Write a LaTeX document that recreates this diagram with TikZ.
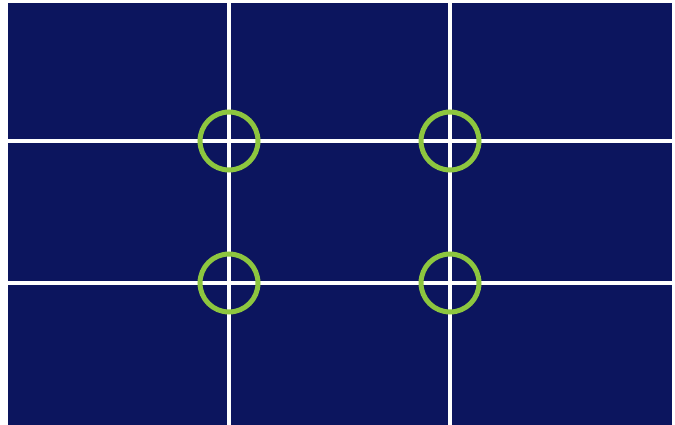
\documentclass[tikz,border=0pt]{standalone}
\usepackage{tikz}
\usetikzlibrary{calc}
\definecolor{cNavy}{HTML}{0C155E}
\definecolor{cGreen}{HTML}{8DC63F}
\tikzset{
  frame/.style ={fill=cNavy,draw=none},
  gridln/.style={draw=white,line width=4.5pt},
  focus/.style ={draw=cGreen,line width=5pt},
}
\begin{document}
\begin{tikzpicture}[x=1pt, y=-1pt]
\useasboundingbox (0,0) rectangle (675,425);

\def\xl{8}      % left edge of the frame
\def\xr{672}    % right edge
\def\yt{3}      % top edge
\def\yb{425}    % bottom edge

% ===== background =======================================================
\fill[frame] (\xl,\yt) rectangle (\xr,\yb);

% ===== thirds grid ======================================================
\foreach \x in {229,450}{\draw[gridln] (\x,\yt) -- (\x,\yb);}
\foreach \y in {141,283}{\draw[gridln] (\xl,\y) -- (\xr,\y);}

% ===== power points =====================================================
\foreach [count=\i] \x/\y in {229/141,450/141,229/283,450/283}{%
  \coordinate (p\i) at (\x,\y);
  \draw[focus] (p\i) circle[radius=29];
}
\end{tikzpicture}
\end{document}
